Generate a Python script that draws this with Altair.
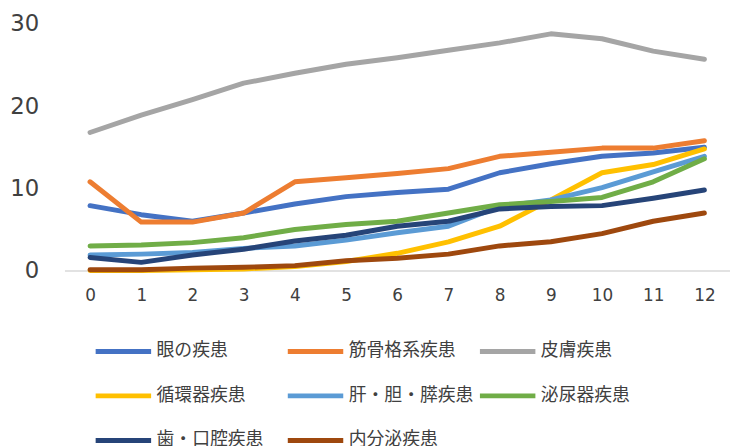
import altair as alt
import pandas as pd

ages = list(range(13))
series = ["眼の疾患", "筋骨格系疾患", "皮膚疾患", "循環器疾患", "肝・胆・膵疾患",
          "泌尿器疾患", "歯・口腔疾患", "内分泌疾患"]
colors = ["#4472C4", "#ED7D31", "#A5A5A5", "#FFC000", "#5B9BD5",
          "#70AD47", "#264478", "#9E480E"]

eye = [7.9, 6.8, 6.0, 7.0, 8.1, 9.0, 9.5, 9.9, 11.9, 13.0, 13.9, 14.3, 15.0]
musculo = [10.8, 5.9, 5.9, 7.0, 10.8, 11.3, 11.8, 12.4, 13.9, 14.4, 14.9, 14.9, 15.8]
skin = [16.8, 18.9, 20.8, 22.8, 24.0, 25.1, 25.9, 26.8, 27.7, 28.8, 28.2, 26.7, 25.7]
circ = [0.0, 0.0, 0.1, 0.2, 0.5, 1.1, 2.1, 3.5, 5.4, 8.6, 11.9, 12.9, 14.8]
liver = [1.9, 2.0, 2.2, 2.7, 3.0, 3.7, 4.6, 5.4, 7.8, 8.6, 10.1, 12.0, 13.9]
urinary = [3.0, 3.1, 3.4, 4.0, 5.0, 5.6, 6.0, 7.0, 8.0, 8.4, 8.9, 10.8, 13.6]
dental = [1.6, 1.0, 1.9, 2.6, 3.6, 4.3, 5.4, 6.0, 7.5, 7.8, 7.9, 8.8, 9.8]
endo = [0.1, 0.1, 0.3, 0.4, 0.6, 1.2, 1.5, 2.0, 3.0, 3.5, 4.5, 6.0, 7.0]

values = [eye, musculo, skin, circ, liver, urinary, dental, endo]

rows = []
for i, (name, vals) in enumerate(zip(series, values)):
    for a, v in zip(ages, vals):
        rows.append({"age": a, "value": v, "series": name, "idx": i})
df = pd.DataFrame(rows)

num_font = "DejaVu Sans"
cjk_font = "Noto Sans CJK JP"

chart = alt.Chart(df).mark_line(strokeWidth=5, strokeCap="round", strokeJoin="round").encode(
    x=alt.X("age:O", title=None,
            scale=alt.Scale(type="point", padding=0.5),
            axis=alt.Axis(labelAngle=0, labelFontSize=17, labelFont=num_font,
                          labelColor="#404040", ticks=False, domainColor="#D9D9D9",
                          domainWidth=1.5, labelPadding=17, grid=False)),
    y=alt.Y("value:Q", title=None,
            scale=alt.Scale(domain=[0, 30], nice=False),
            axis=alt.Axis(values=[0, 10, 20, 30], labelFontSize=23, labelFont=num_font,
                          labelColor="#404040", ticks=False, domain=False, grid=False,
                          labelPadding=26)),
    color=alt.Color("series:N", title=None,
                    scale=alt.Scale(domain=series, range=colors),
                    sort=series,
                    legend=alt.Legend(orient="none", legendX=29, legendY=300,
                                      direction="horizontal", columns=3,
                                      symbolType="stroke", symbolSize=3136,
                                      symbolStrokeWidth=5, labelFontSize=18,
                                      labelFont=cjk_font, labelColor="#404040",
                                      gridAlign="all", columnPadding=-4,
                                      rowPadding=4, labelOffset=3, padding=0)),
    order=alt.Order("idx:Q"),
    detail="series:N",
).properties(
    width=672, height=249,
    autosize=alt.AutoSizeParams(type="none"),
    padding={"left": 57, "top": 14, "right": 0, "bottom": 175},
).configure_view(stroke=None)

chart.save("out.html", embed_options={"renderer": "svg", "actions": False})
